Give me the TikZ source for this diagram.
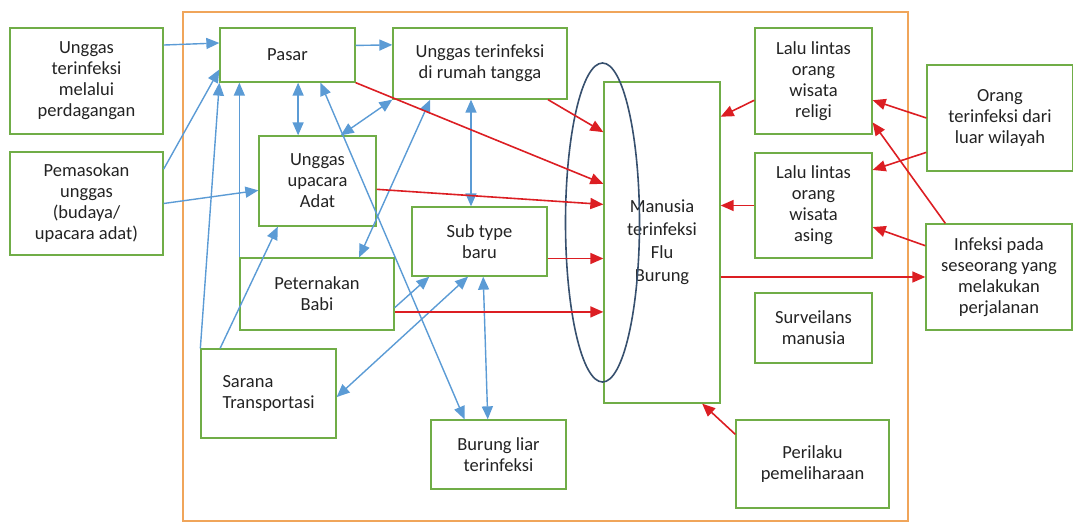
\documentclass[tikz,border=0pt]{standalone}
\usepackage{fontspec}
\setmainfont{Carlito}
\usetikzlibrary{arrows.meta,calc,shapes.geometric}
\definecolor{cbox}{RGB}{112,173,71}
\definecolor{cframe}{RGB}{240,165,90}
\definecolor{cblue}{RGB}{91,155,213}
\definecolor{cred}{RGB}{220,30,35}
\definecolor{cring}{RGB}{55,80,110}
\definecolor{ctxt}{RGB}{35,35,35}

\begin{document}
\begin{tikzpicture}[
  x=1pt, y=-1pt,
  font=\fontsize{18.5}{21}\selectfont,
  >={Triangle[length=13pt,width=11pt]},
  box/.style={rectangle, draw=cbox, line width=1.3pt, align=center,
              inner sep=2pt, text=ctxt},
  barr/.style={->, cblue, line width=1.4pt},
  bboth/.style={<->, cblue, line width=1.4pt},
  rarr/.style={->, cred, line width=1.6pt}
]
\useasboundingbox (0,0) rectangle (1073,525);

% ---------- outer frame ----------
\node[draw=cframe, line width=1.3pt, minimum width=725pt, minimum height=509pt,
      inner sep=0pt] (frame) at (545.5,266.5) {};

% ---------- sources on the left ----------
\node[box, minimum width=153pt, minimum height=106pt] (trade) at (86.5,81)
  {Unggas\\terinfeksi\\melalui\\perdagangan};
\node[box, minimum width=153pt, minimum height=103pt] (supply) at (86.5,203.5)
  {Pemasokan\\unggas\\(budaya/\\upacara adat)};

% ---------- animal side ----------
\node[box, minimum width=135pt, minimum height=54pt]  (pasar)   at (287.5,55)    {Pasar};
\node[box, minimum width=174pt, minimum height=71pt]  (rumah)   at (480,63.5)    {Unggas terinfeksi\\di rumah tangga};
\node[box, minimum width=117pt, minimum height=90pt]  (adat)    at (317.5,181)   {Unggas\\upacara\\Adat};
\node[box, minimum width=135pt, minimum height=69pt]  (subtype) at (479.5,241.5) {Sub type\\baru};
\node[box, minimum width=154pt, minimum height=72pt]  (babi)    at (317,294)     {Peternakan\\Babi};
\node[box, minimum width=135pt, minimum height=89pt, align=left]
  (sarana) at (268.5,393.5) {Sarana\\Transportasi};
\node[box, minimum width=135pt, minimum height=69pt]  (burung)  at (498.5,454.5) {Burung liar\\terinfeksi};

% ---------- human side ----------
\node[box, minimum width=116pt, minimum height=321pt, font=\fontsize{18.5}{23}\selectfont]
  (manusia) at (662,242.5) {Manusia\\terinfeksi\\Flu\\Burung};
\node[ellipse, draw=cring, line width=1.6pt, minimum width=74pt, minimum height=319pt,
      inner sep=0pt] (ring) at (602.5,222.5) {};
\node[box, minimum width=117pt, minimum height=106pt] (religi)   at (813.5,81)    {Lalu lintas\\orang\\wisata\\religi};
\node[box, minimum width=117pt, minimum height=105pt] (asing)    at (813.5,205.5) {Lalu lintas\\orang\\wisata\\asing};
\node[box, minimum width=117pt, minimum height=70pt]  (surv)     at (813.5,328)   {Surveilans\\manusia};
\node[box, minimum width=153pt, minimum height=88pt]  (perilaku) at (812.5,464)   {Perilaku\\pemeliharaan};

% ---------- sources on the right ----------
\node[box, minimum width=146pt, minimum height=106pt] (luar)    at (1000,118) {Orang\\terinfeksi dari\\luar wilayah};
\node[box, minimum width=146pt, minimum height=106pt] (infeksi) at (999,277)  {Infeksi pada\\seseorang yang\\melakukan\\perjalanan};

% ---------- blue links ----------
\foreach \a/\b in {trade.25/pasar.170, pasar.8/rumah.168, supply.24/pasar.192,
                   supply.0/adat.189, sarana.north west/pasar.south west,
                   sarana.137/adat.229, babi.-10/subtype.215}
  \draw[barr] (\a) -- (\b);
\draw[barr] (babi.north west) -- (babi.north west |- pasar.south);

\foreach \a/\b in {adat.63/rumah.south west, pasar.-40/burung.134, rumah.216/babi.41,
                   sarana.-3/subtype.252, subtype.-84/burung.107}
  \draw[bboth] (\a) -- (\b);
\draw[bboth] (pasar.-69) -- (pasar.-69 |- adat.north);
\draw[bboth] (rumah.256) -- (rumah.256 |- subtype.north);

% ---------- red links ----------
\foreach \a/\b in {pasar.south east/manusia.135, rumah.-28/manusia.118,
                   adat.-8/manusia.147, religi.198/manusia.65,
                   luar.180/religi.-18, luar.205/asing.31,
                   infeksi.135/religi.-35, infeksi.157/asing.-20,
                   perilaku.159/manusia.-76}
  \draw[rarr] (\a) -- (\b);
\draw[rarr] (subtype.-14) -- (subtype.-14 -| manusia.west);
\draw[rarr] (babi.-13) -- (babi.-13 -| manusia.west);
\draw[rarr] (asing.west) -- (asing.west -| manusia.east);
\draw[rarr] (infeksi.west -| manusia.east) -- (infeksi.west);

\end{tikzpicture}
\end{document}
